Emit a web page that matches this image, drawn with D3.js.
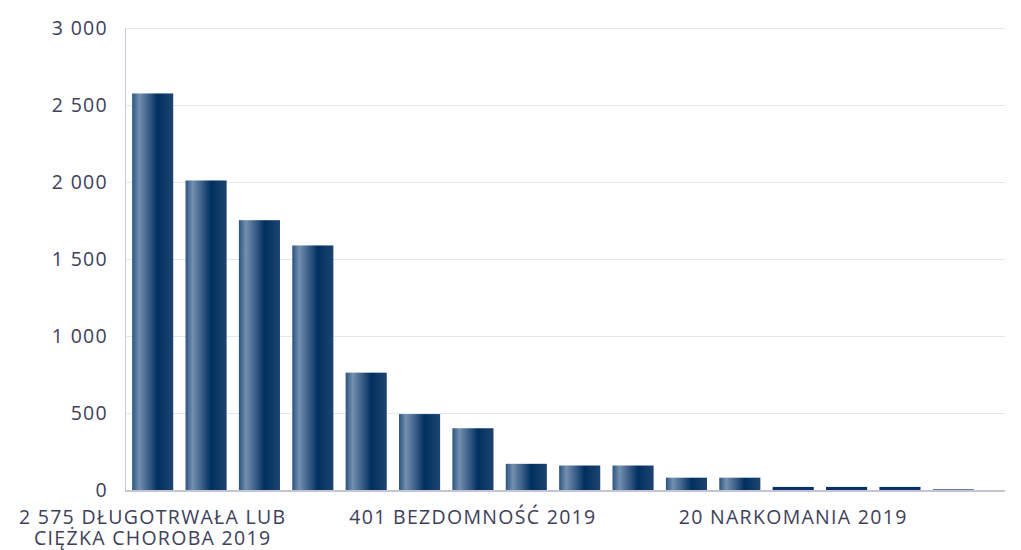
<!DOCTYPE html>
<html>
<head>
<meta charset="utf-8">
<script src="https://cdn.jsdelivr.net/npm/d3@7"></script>
<style>
  body { margin: 0; background: #fff; }
  svg text { font-family: "Open Sans", "Noto Sans", sans-serif; fill: #40405a; letter-spacing: 1.3px; }
</style>
</head>
<body>
<svg id="chart" width="1021" height="550"></svg>
<script>
// values (sorted descending)
var values = [2575, 2010, 1752, 1588, 762, 493, 401, 170, 159, 159, 80, 80, 20, 20, 20, 4];
// only every 6th category is labelled in the picture
var tickLabels = ["2 575 DŁUGOTRWAŁA LUB CIĘŻKA CHOROBA 2019", "", "", "", "", "",
                  "401 BEZDOMNOŚĆ 2019", "", "", "", "", "",
                  "20 NARKOMANIA 2019", "", "", ""];
var yTicks = [0, 500, 1000, 1500, 2000, 2500, 3000];

var svg = d3.select("#chart");
var plotLeft = 125, plotRight = 1005, plotTop = 28, plotBottom = 490;
var fontSize = "19.5px";

var x = d3.scaleBand()
    .domain(d3.range(values.length))
    .range([126, 980])
    .paddingInner(0.23)
    .paddingOuter(0.115);

var y = d3.scaleLinear().domain([0, 3000]).range([plotBottom, plotTop]);

var fmt = function(v){ return d3.format(",")(v).replace(/,/g, " "); };

// bar gradient
var grad = svg.append("defs").append("linearGradient")
    .attr("id", "barGrad")
    .attr("x1", "0%").attr("x2", "100%").attr("y1", "0%").attr("y2", "0%");
[[0, "#2b5480"], [0.17, "#7390af"], [0.4, "#3b5f88"], [0.62, "#00305f"], [1, "#1e4470"]]
  .forEach(function(s){ grad.append("stop").attr("offset", s[0]).attr("stop-color", s[1]); });

// gridlines
svg.append("g").selectAll("line")
    .data(yTicks.filter(function(d){ return d > 0; }))
    .enter().append("line")
    .attr("x1", plotLeft).attr("x2", plotRight)
    .attr("y1", function(d){ return Math.round(y(d)) + 0.5; })
    .attr("y2", function(d){ return Math.round(y(d)) + 0.5; })
    .attr("stroke", "#e6e6ee").attr("stroke-width", 1);

// y labels
svg.append("g").selectAll("text")
    .data(yTicks)
    .enter().append("text")
    .attr("x", 108)
    .attr("y", function(d){ return y(d); })
    .attr("dy", "0.36em")
    .attr("text-anchor", "end")
    .style("font-size", fontSize)
    .text(fmt);

// bars
svg.append("g").selectAll("rect")
    .data(values)
    .enter().append("rect")
    .attr("x", function(d, i){ return x(i); })
    .attr("y", function(d){ return y(d); })
    .attr("width", x.bandwidth())
    .attr("height", function(d){ return plotBottom - y(d); })
    .attr("fill", function(d){ return d < 50 ? "#05336a" : "url(#barGrad)"; });

// axis lines
svg.append("line")
    .attr("x1", plotLeft + 0.5).attr("x2", plotLeft + 0.5)
    .attr("y1", plotTop).attr("y2", plotBottom)
    .attr("stroke", "#cacad8").attr("stroke-width", 1);
svg.append("line")
    .attr("x1", plotLeft).attr("x2", plotRight)
    .attr("y1", plotBottom + 1).attr("y2", plotBottom + 1)
    .attr("stroke", "#c4c4d4").attr("stroke-width", 2);

// x labels, wrapped
function wrapLines(str, maxW) {
  var words = str.split(" "), lines = [], cur = "";
  var probe = svg.append("text").style("font-size", fontSize);
  words.forEach(function(w){
    var t = cur ? cur + " " + w : w;
    probe.text(t);
    if (probe.node().getComputedTextLength() > maxW && cur) { lines.push(cur); cur = w; }
    else cur = t;
  });
  lines.push(cur);
  probe.remove();
  return lines;
}

tickLabels.forEach(function(lbl, i){
  if (!lbl) return;
  var lines = wrapLines(lbl, 295);
  var cx = x(i) + x.bandwidth() / 2;
  var t = svg.append("text")
      .attr("text-anchor", "middle")
      .style("font-size", fontSize)
      .attr("x", cx)
      .attr("y", 524);
  lines.forEach(function(l, k){
    t.append("tspan")
      .attr("x", cx)
      .attr("dy", k === 0 ? 0 : 21)
      .text(l);
  });
});
</script>
</body>
</html>
